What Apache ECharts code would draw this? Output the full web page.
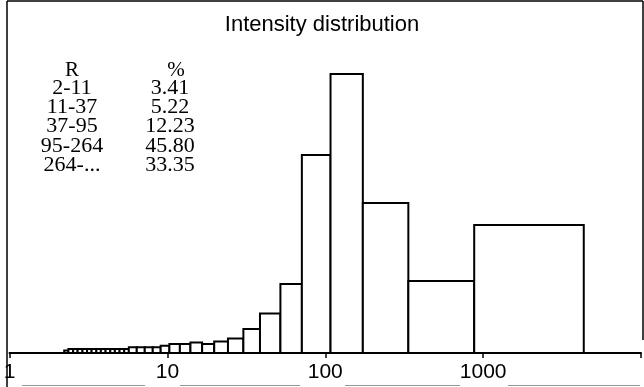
<!DOCTYPE html>
<html><head><meta charset="utf-8">
<script src="https://cdn.jsdelivr.net/npm/echarts@6/dist/echarts.min.js"></script>
<style>html,body{margin:0;padding:0;background:#fff}#c{width:644px;height:387px}</style>
</head><body><div id="c"></div>
<script>
var chartTitle = 'Intensity distribution';
var binEdges = [2.22, 2.36, 2.53, 2.70, 2.90, 3.10, 3.31, 3.55, 3.79, 4.06, 4.35, 4.65, 4.98, 5.33, 5.70,
  6.40, 7.19, 8.08, 9.07, 10.3, 12.0, 14.0, 16.6, 19.8, 24.2, 30.3, 38.6, 52.0, 71.1, 108, 173, 336, 878, 4340];
var binHeights = [2.5, 4, 4, 4, 4, 4, 4, 4, 4, 4, 4, 4, 4, 4,
  5.7, 5.7, 5.7, 5.7, 7.3, 9, 9, 10.5, 9, 11.5, 14.5, 24, 39.5, 69, 198, 279, 150, 72, 128];
var tickLabels = ['1', '10', '100', '1000'];
var tableHeaders = ['R', '%'];
var tableRanges = ['2-11', '11-37', '37-95', '95-264', '264-...'];
var tablePercents = ['3.41', '5.22', '12.23', '45.80', '33.35'];

var data = binHeights.map(function (h, i) { return [binEdges[i], binEdges[i + 1], h]; });

var chart = echarts.init(document.getElementById('c'));
var graphics = [];
// frame
graphics.push({ type: 'line', z: -10, shape: { x1: 7, y1: 1, x2: 643, y2: 1 }, style: { stroke: '#000', lineWidth: 1.5 } });
graphics.push({ type: 'line', z: -10, shape: { x1: 7, y1: 1, x2: 7, y2: 387 }, style: { stroke: '#000', lineWidth: 1.5 } });
graphics.push({ type: 'line', z: -10, shape: { x1: 643, y1: 1, x2: 643, y2: 340 }, style: { stroke: '#000', lineWidth: 1.5 } });
[[22, 145], [180, 300], [345, 460], [508, 640]].forEach(function (s) {
  graphics.push({ type: 'line', z: -10, shape: { x1: s[0], y1: 385.5, x2: s[1], y2: 385.5 }, style: { stroke: '#999', lineWidth: 1 } });
});
// table
var serif = '"Liberation Serif", "Times New Roman", serif';
var col1 = 72, col2 = 170, y0 = 70, dy = 19.3;
graphics.push({ type: 'text', style: { text: tableHeaders[0], x: col1, y: y0, align: 'center', verticalAlign: 'middle', font: '21px ' + serif, fill: '#000' } });
graphics.push({ type: 'text', style: { text: tableHeaders[1], x: col2 + 6, y: y0, align: 'center', verticalAlign: 'middle', font: '21px ' + serif, fill: '#000' } });
tableRanges.forEach(function (r, i) {
  var y = y0 + 18 + i * dy;
  graphics.push({ type: 'text', style: { text: r, x: col1, y: y, align: 'center', verticalAlign: 'middle', font: '22px ' + serif, fill: '#000' } });
  graphics.push({ type: 'text', style: { text: tablePercents[i], x: col2, y: y, align: 'center', verticalAlign: 'middle', font: '22px ' + serif, fill: '#000' } });
});

var sans = '"Liberation Sans", Arial, sans-serif';
chart.setOption({
  animation: false,
  backgroundColor: '#fff',
  title: { text: chartTitle, left: 'center', top: 9, textStyle: { fontFamily: sans, fontSize: 22, fontWeight: 'normal', color: '#000' } },
  grid: { left: 9.5, right: 1, top: 53, bottom: 34 },
  xAxis: {
    type: 'log', logBase: 10, min: 1, max: 10000,
    axisLine: { lineStyle: { color: '#000', width: 2 } },
    axisTick: { show: true, length: 5, lineStyle: { color: '#000', width: 1.5 } },
    minorTick: { show: false },
    splitLine: { show: false },
    axisLabel: {
      color: '#000', fontFamily: sans, fontSize: 21, margin: 9,
      formatter: function (v) { var i = Math.round(Math.log10(v)); return i < tickLabels.length ? tickLabels[i] : ''; }
    }
  },
  yAxis: { type: 'value', min: 0, max: 300, show: false },
  series: [{
    type: 'custom',
    encode: { x: [0, 1], y: 2 },
    data: data,
    renderItem: function (params, api) {
      var p0 = api.coord([api.value(0), api.value(2)]);
      var p1 = api.coord([api.value(1), 0]);
      return { type: 'rect', shape: { x: p0[0], y: p0[1], width: p1[0] - p0[0], height: p1[1] - p0[1] },
        style: { fill: '#fff', stroke: '#000', lineWidth: 2 } };
    }
  }],
  graphic: graphics
});
</script></body></html>
